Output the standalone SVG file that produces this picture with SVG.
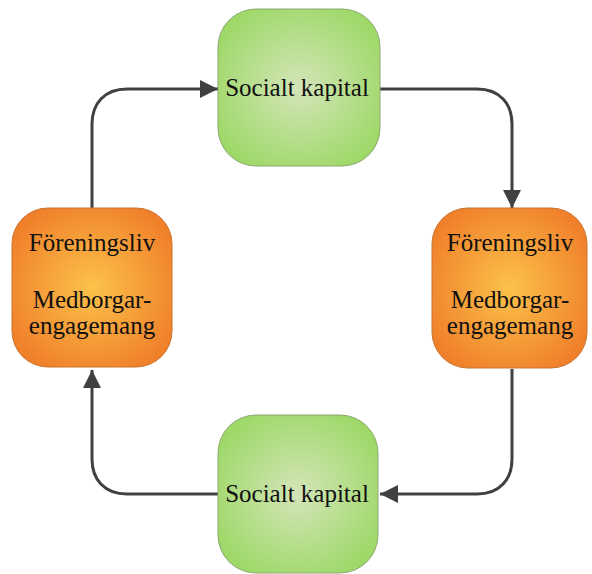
<svg xmlns="http://www.w3.org/2000/svg" width="592" height="574" viewBox="0 0 592 574">
<defs>
<radialGradient id="gG" cx="50%" cy="50%" r="60%">
<stop offset="0" stop-color="#d3e5b8"/>
<stop offset="1" stop-color="#9dd866"/>
</radialGradient>
<radialGradient id="gO" cx="50%" cy="50%" r="60%">
<stop offset="0" stop-color="#fbc24a"/>
<stop offset="1" stop-color="#f07e2a"/>
</radialGradient>
<marker id="ah" viewBox="0 0 10 10" refX="10" refY="5" markerWidth="6" markerHeight="6" orient="auto" markerUnits="strokeWidth">
<path d="M0,0 L10,5 L0,10 z" fill="#404040"/>
</marker>
<style>
.g{fill:url(#gG);stroke:#8aa870;stroke-width:1}
.o{fill:url(#gO);stroke:#c8742e;stroke-width:1}
.t{font-family:"Liberation Serif","Times New Roman",serif;font-size:25px;fill:#111;text-anchor:middle}
.c{fill:none;stroke:#404040;stroke-width:3;marker-end:url(#ah)}
</style>
</defs>
<g id="connectors">
<path class="c" d="M92,208 V124 C92,104 104,89 127,89 H218"/>
<path class="c" d="M380,89 H477 C500,89 512,104 512,124 V208"/>
<path class="c" d="M512,369 V459 C512,479 500,494 477,494 H380"/>
<path class="c" d="M218,494 H127 C104,494 92,479 92,459 V370"/>
</g>
<g id="top">
<rect class="g" x="218" y="9" width="162" height="157" rx="38"/>
<text class="t" x="297" y="96">Socialt kapital</text>
</g>
<g id="right">
<rect class="o" x="432" y="208" width="155" height="160" rx="36"/>
<text class="t" x="510" y="251">Föreningsliv</text>
<text class="t" x="510" y="308">Medborgar-</text>
<text class="t" x="510" y="334">engagemang</text>
</g>
<g id="bottom">
<rect class="g" x="218" y="415" width="160" height="158" rx="38"/>
<text class="t" x="297" y="502">Socialt kapital</text>
</g>
<g id="left">
<rect class="o" x="12" y="208" width="160" height="159" rx="36"/>
<text class="t" x="92" y="251">Föreningsliv</text>
<text class="t" x="92" y="308">Medborgar-</text>
<text class="t" x="92" y="334">engagemang</text>
</g>
</svg>
